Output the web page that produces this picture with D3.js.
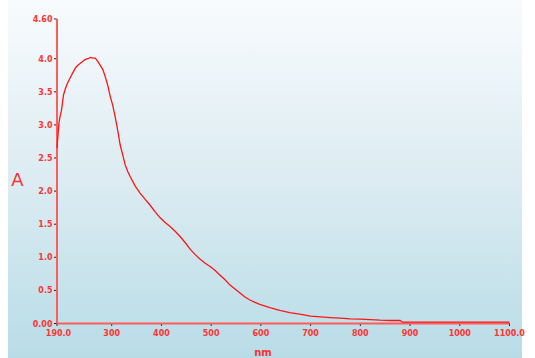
<!DOCTYPE html>
<html>
<head>
<meta charset="utf-8">
<script src="https://cdn.jsdelivr.net/npm/d3@7"></script>
<style>
  body { margin: 0; background: #fff; }
  svg { display: block; }
  .tick-label { font-family: "DejaVu Sans", sans-serif; font-weight: bold; font-size: 8px; fill: #ff3434; }
</style>
</head>
<body>
<svg id="chart" width="535" height="358"></svg>
<script>
// spectrum
const wavelength = [190,192,194,196,199,203,207,211,217,222,227,232,237,242,247,252,257,262,267,272,277,282,287,292,297,302,307,312,317,322,327,332,337,347,357,367,377,387,397,407,418,428,438,448,458,468,478,488,498,508,518,528,538,548,558,568,578,588,598,618,638,658,678,700,720,740,760,780,800,820,840,860,880,885,900,1000,1100];
const absorbance = [2.65,2.85,3.03,3.12,3.22,3.45,3.55,3.63,3.72,3.79,3.86,3.90,3.93,3.96,3.99,4.00,4.02,4.01,4.01,3.96,3.90,3.84,3.73,3.60,3.43,3.30,3.12,2.92,2.70,2.55,2.40,2.30,2.22,2.08,1.97,1.88,1.79,1.69,1.60,1.53,1.46,1.39,1.31,1.22,1.12,1.04,0.97,0.91,0.86,0.80,0.73,0.66,0.58,0.52,0.46,0.40,0.355,0.32,0.29,0.24,0.20,0.165,0.14,0.11,0.10,0.09,0.08,0.07,0.065,0.06,0.05,0.045,0.045,0.02,0.02,0.02,0.02];

const xTicks = [190,300,400,500,600,700,800,900,1000,1100];
const xTickLabels = ["190.0","300","400","500","600","700","800","900","1000","1100.0"];
const yTicks = [0,0.5,1,1.5,2,2.5,3,3.5,4,4.6];
const yTickLabels = ["0.00","0.5","1.0","1.5","2.0","2.5","3.0","3.5","4.0","4.60"];

const svg = d3.select("#chart");

// background panel with vertical gradient
const grad = svg.append("defs").append("linearGradient")
    .attr("id", "bg").attr("x1", 0).attr("y1", 0).attr("x2", 0).attr("y2", 1);
grad.append("stop").attr("offset", "0%").attr("stop-color", "#f8fbfd");
grad.append("stop").attr("offset", "50%").attr("stop-color", "#dcecf2");
grad.append("stop").attr("offset", "100%").attr("stop-color", "#b8dce7");

svg.append("rect")
    .attr("x", 8).attr("y", 0)
    .attr("width", 514).attr("height", 358)
    .attr("fill", "url(#bg)");

const x = d3.scaleLinear().domain([190, 1100]).range([57, 509.5]);
const y = d3.scaleLinear().domain([0, 4.6]).range([323.5, 19]);

// tick marks
svg.append("g").selectAll("line")
  .data(yTicks).enter().append("line")
    .attr("x1", 54).attr("x2", 57)
    .attr("y1", d => y(d)).attr("y2", d => y(d))
    .attr("stroke", "#222").attr("stroke-width", 1);

svg.append("g").selectAll("line")
  .data(xTicks).enter().append("line")
    .attr("x1", d => x(d)).attr("x2", d => x(d))
    .attr("y1", 323).attr("y2", 326)
    .attr("stroke", "#222").attr("stroke-width", 1);

// axis lines
svg.append("line")
    .attr("x1", x(190)).attr("x2", x(190))
    .attr("y1", y(4.6)).attr("y2", y(0))
    .attr("stroke", "#ff5c5c").attr("stroke-width", 2);
svg.append("line")
    .attr("x1", x(190)).attr("x2", x(1100))
    .attr("y1", y(0)).attr("y2", y(0))
    .attr("stroke", "#ff5c5c").attr("stroke-width", 2);

// tick labels
svg.append("g").selectAll("text")
  .data(yTicks).enter().append("text")
    .attr("class", "tick-label")
    .attr("x", 52.5)
    .attr("y", d => y(d) + 3)
    .attr("text-anchor", "end")
    .text((d, i) => yTickLabels[i]);

svg.append("g").selectAll("text")
  .data(xTicks).enter().append("text")
    .attr("class", "tick-label")
    .attr("x", (d, i) => x(d) + (i == 0 ? 1.5 : 0))
    .attr("y", 336)
    .attr("text-anchor", "middle")
    .text((d, i) => xTickLabels[i]);

// axis titles
svg.append("text")
    .attr("x", 17.5).attr("y", 186)
    .attr("text-anchor", "middle")
    .style("font-family", "DejaVu Sans, sans-serif")
    .style("font-size", "18px")
    .style("fill", "#ff3030")
    .text("A");

svg.append("text")
    .attr("x", 263).attr("y", 356)
    .attr("text-anchor", "middle")
    .style("font-family", "DejaVu Sans, sans-serif")
    .style("font-weight", "bold")
    .style("font-size", "10px")
    .style("fill", "#ff3030")
    .text("nm");

// spectrum
const line = d3.line()
    .x((d, i) => x(wavelength[i]))
    .y(d => y(d));

svg.append("path")
    .datum(absorbance)
    .attr("d", line)
    .attr("fill", "none")
    .attr("stroke", "#ff1414")
    .attr("stroke-width", 1.3);
</script>
</body>
</html>
